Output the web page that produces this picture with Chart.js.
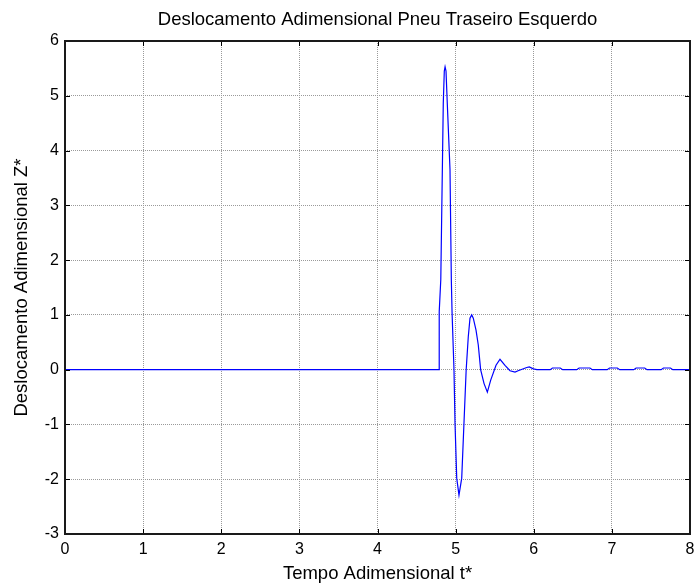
<!DOCTYPE html>
<html>
<head>
<meta charset="utf-8">
<title>Deslocamento Adimensional Pneu Traseiro Esquerdo</title>
<script src="https://cdn.jsdelivr.net/npm/chart.js@4/dist/chart.umd.min.js"></script>
<style>
    html, body { margin: 0; padding: 0; background: #ffffff; }
    #chart { display: block; }
</style>
</head>
<body>
<canvas id="chart" width="696" height="585"></canvas>
<script>
// Resposta do pneu traseiro esquerdo (tempo e deslocamento adimensionais)
const tempo = [
    0, 4.79, 4.79, 4.81, 4.83, 4.842, 4.855, 4.865, 4.877, 4.893,
    4.928, 4.945, 4.954, 4.979, 4.992, 5.014, 5.043, 5.078, 5.107, 5.135,
    5.162, 5.184, 5.206, 5.226, 5.261, 5.29, 5.32, 5.363, 5.406, 5.449,
    5.517, 5.568, 5.632, 5.696, 5.76, 5.80, 5.91, 5.943, 5.995, 6.04,
    6.21, 6.24, 6.34, 6.37, 6.55, 6.58, 6.72, 6.75, 6.94, 6.97,
    7.07, 7.10, 7.28, 7.31, 7.42, 7.45, 7.63, 7.66, 7.75, 7.78, 8.0
];
const deslocamento = [
    0, 0, 1.06, 1.64, 3.65, 4.87, 5.45, 5.53, 5.45, 4.87,
    3.65, 1.64, 1.06, 0, -0.97, -1.98, -2.29, -1.98, -0.97, 0,
    0.60, 0.94, 1.0, 0.94, 0.72, 0.45, 0, -0.25, -0.41, -0.19,
    0.08, 0.19, 0.08, -0.02, -0.045, -0.02, 0.04, 0.05, 0.015, 0,
    0, 0.03, 0.03, 0, 0, 0.03, 0.03, 0, 0, 0.03,
    0.03, 0, 0, 0.03, 0.03, 0, 0, 0.03, 0.03, 0, 0
];
const xTicks = [0, 1, 2, 3, 4, 5, 6, 7, 8];
const yTicks = [-3, -2, -1, 0, 1, 2, 3, 4, 5, 6];

const titulo = 'Deslocamento Adimensional Pneu Traseiro Esquerdo';
const fonte = '"Liberation Sans", Arial, sans-serif';

// caixa fechada e marcas de escala para dentro (estilo MATLAB)
const caixaPlugin = {
    id: 'caixa',
    afterDraw(chart) {
        const { ctx, chartArea: a, scales } = chart;
        ctx.save();
        ctx.strokeStyle = '#000';
        ctx.lineWidth = 1;
        ctx.beginPath();
        xTicks.forEach(v => {
            const x = Math.round(scales.x.getPixelForValue(v)) + 0.5;
            ctx.moveTo(x, a.bottom); ctx.lineTo(x, a.bottom - 5);
            ctx.moveTo(x, a.top); ctx.lineTo(x, a.top + 5);
        });
        yTicks.forEach(v => {
            const y = Math.round(scales.y.getPixelForValue(v)) + 0.5;
            ctx.moveTo(a.left, y); ctx.lineTo(a.left + 5, y);
            ctx.moveTo(a.right, y); ctx.lineTo(a.right - 5, y);
        });
        ctx.stroke();
        ctx.lineWidth = 2;
        ctx.strokeStyle = '#1a1a1a';
        ctx.strokeRect(a.left, a.top, a.right - a.left, a.bottom - a.top);

        ctx.fillStyle = '#000';
        ctx.font = '18.5px ' + fonte;
        ctx.textAlign = 'center';
        ctx.textBaseline = 'middle';
        ctx.fillText(titulo, (a.left + a.right) / 2, 20);
        ctx.restore();
    }
};

new Chart(document.getElementById('chart'), {
    type: 'line',
    data: {
        datasets: [{
            data: tempo.map((t, i) => ({ x: t, y: deslocamento[i] })),
            borderColor: '#0000ff',
            borderWidth: 1.2,
            pointRadius: 0,
            tension: 0,
            fill: false
        }]
    },
    options: {
        responsive: false,
        animation: false,
        layout: { padding: { top: 41, right: 6, left: 0, bottom: 0 } },
        plugins: {
            legend: { display: false },
            tooltip: { enabled: false }
        },
        scales: {
            x: {
                type: 'linear',
                min: 0,
                max: 8,
                afterFit(scale) {
                    scale.height = 51;
                    scale.paddingLeft = 0;
                    scale.paddingRight = 0;
                },
                afterBuildTicks(scale) { scale.ticks = xTicks.map(v => ({ value: v })); },
                grid: { color: '#9a9a9a', lineWidth: 1, drawTicks: false },
                border: { display: false, dash: [1, 1] },
                ticks: {
                    padding: 6,
                    color: '#000',
                    font: { family: fonte, size: 16 },
                    maxRotation: 0
                },
                title: {
                    display: true,
                    text: 'Tempo Adimensional t*',
                    color: '#000',
                    font: { family: fonte, size: 18.5 },
                    padding: { top: 0, bottom: 0 }
                }
            },
            y: {
                type: 'linear',
                min: -3,
                max: 6,
                afterFit(scale) {
                    scale.width = 65;
                    scale.paddingTop = 0;
                    scale.paddingBottom = 0;
                },
                afterBuildTicks(scale) { scale.ticks = yTicks.map(v => ({ value: v })); },
                grid: { color: '#9a9a9a', lineWidth: 1, drawTicks: false },
                border: { display: false, dash: [1, 1] },
                ticks: {
                    padding: 6,
                    color: '#000',
                    font: { family: fonte, size: 16 }
                },
                title: {
                    display: true,
                    text: 'Deslocamento Adimensional Z*',
                    color: '#000',
                    font: { family: fonte, size: 18.5 },
                    padding: { top: 11, bottom: 0 }
                }
            }
        }
    },
    plugins: [caixaPlugin]
});
</script>
</body>
</html>
